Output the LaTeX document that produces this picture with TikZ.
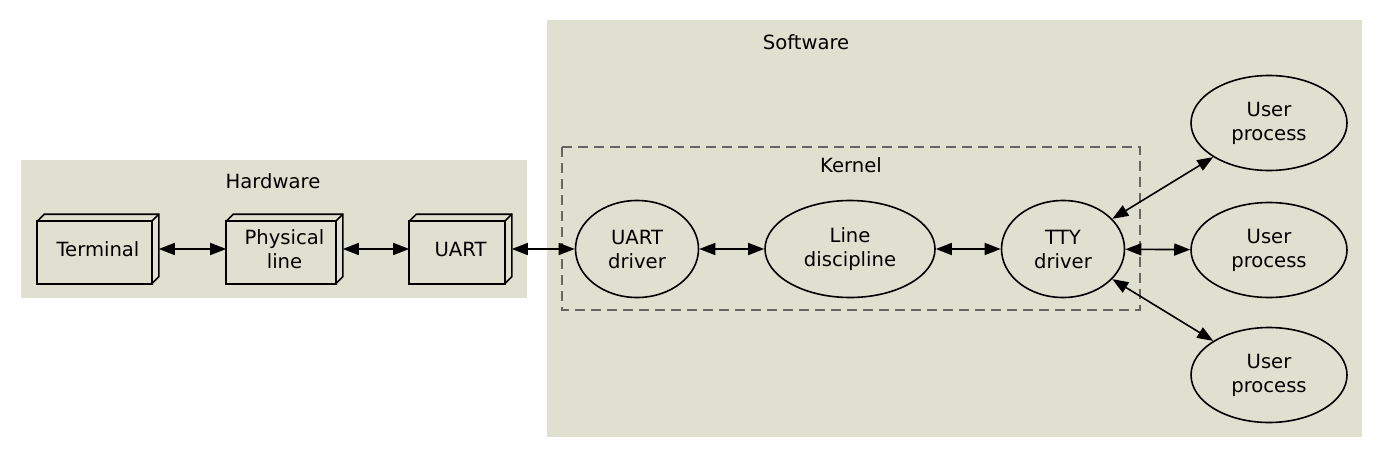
\documentclass[tikz,border=0pt]{standalone}
\usepackage{fontspec}
\setmainfont{DejaVu Sans}
\usetikzlibrary{shapes.geometric,arrows.meta}
\definecolor{clusterbg}{RGB}{224,224,208}
\definecolor{kernelgray}{RGB}{100,100,100}
\tikzset{
        hw/.style={rectangle,inner sep=0pt,minimum height=34pt,align=center},
        sw/.style={ellipse,draw,inner sep=0pt,minimum height=48.5pt,align=center},
        depth/.store in=\depthlen,
        depth=3.5pt
    }
% front, top and right faces of a hardware box
\newcommand{\boxfaces}[1]{%
\draw (#1.south west) rectangle ([shift={(-\depthlen,-\depthlen)}]#1.north east);
\draw ([yshift=-\depthlen]#1.north west) -- ([xshift=\depthlen]#1.north west) -- (#1.north east)
-- ([yshift=\depthlen]#1.south east) -- ([xshift=-\depthlen]#1.south east);
\draw ([shift={(-\depthlen,-\depthlen)}]#1.north east) -- (#1.north east);}

\begin{document}
\begin{tikzpicture}[x=0.5pt,y=-0.5pt,line width=0.8pt,>={Triangle[length=8pt,width=6pt]},
font=\fontsize{9.8}{12}\selectfont]
\useasboundingbox (0,0) rectangle (1384,460);
% clusters
\fill[clusterbg] (21,160) rectangle (527,298);
\fill[clusterbg] (547,20) rectangle (1362,437);
\node (HWL) at (273,181) {Hardware};
\node (SWL) at (806,42) {Software};
\draw[kernelgray,dash pattern=on 5pt off 3pt] (562,147) rectangle (1140,310);
\node (KL) at (851,165) {Kernel};

% hardware
\node(TERM)[hw,minimum width=60pt] at (98,249) {Terminal};
\node(PHYS)[hw,minimum width=57.5pt] at (284.5,249) {Physical\\line};
\node(UART)[hw,minimum width=50.5pt] at (460.5,249) {UART};
\boxfaces{TERM}
\boxfaces{PHYS}
\boxfaces{UART}

% kernel
\node(UD)[sw,minimum width=61.5pt] at (637,249) {UART\\driver};
\node(LD)[sw,minimum width=85pt] at (850,249) {Line\\discipline};
\node(TTY)[sw,minimum width=61.5pt] at (1063,249) {TTY\\driver};

% user processes
\node(UP1)[sw,minimum width=78pt,minimum height=47.5pt] at (1269,123) {User\\process};
\node(UP2)[sw,minimum width=78pt,minimum height=47.5pt] at (1269,250) {User\\process};
\node(UP3)[sw,minimum width=78pt,minimum height=47.5pt] at (1269,375) {User\\process};

\draw[<->] (TERM) -- (PHYS);
\draw[<->] (PHYS) -- (UART);
\draw[<->] (UART) -- (UD);
\draw[<->] (UD) -- (LD);
\draw[<->] (LD) -- (TTY);
\draw[<->] (TTY) -- (UP1);
\draw[<->] (TTY) -- (UP2);
\draw[<->] (TTY) -- (UP3);

\end{tikzpicture}
\end{document}
